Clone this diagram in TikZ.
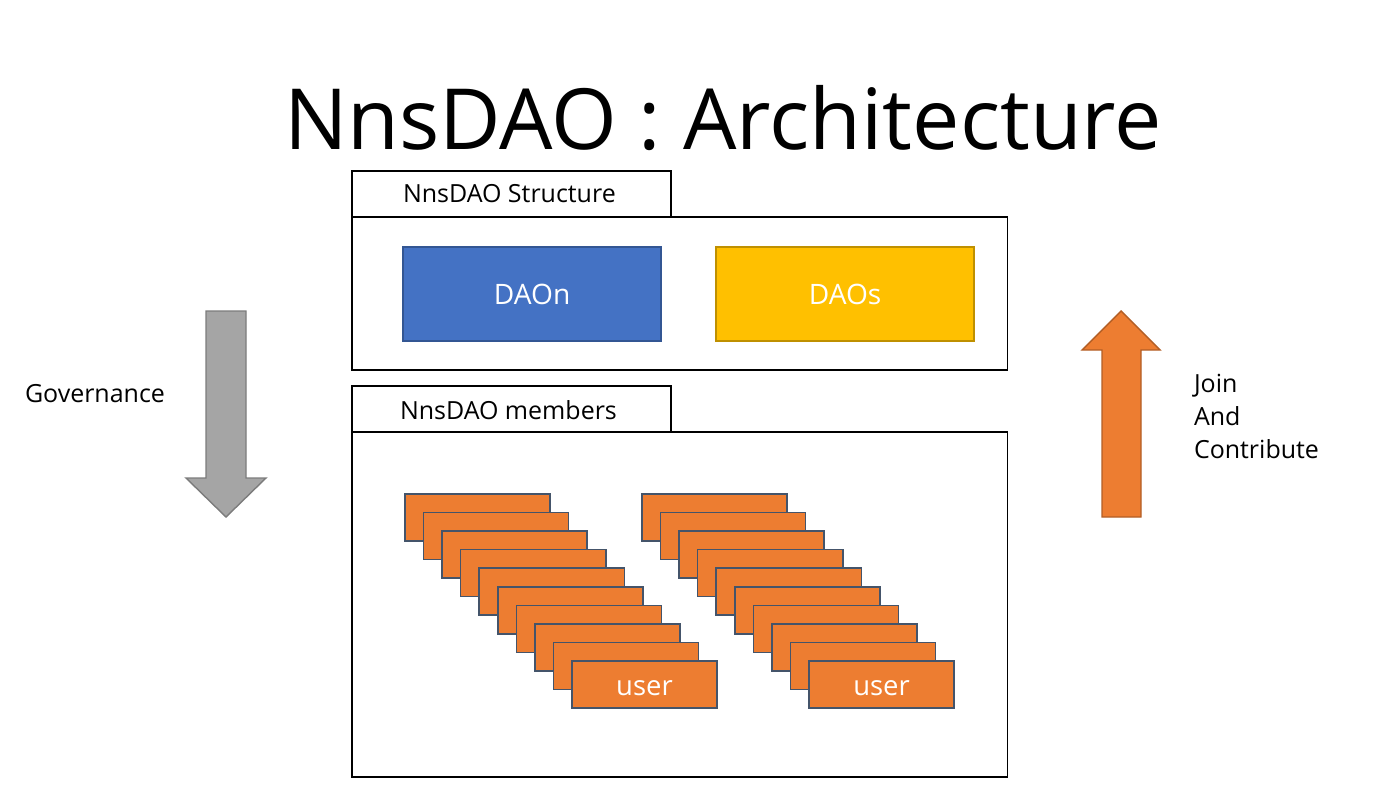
\documentclass[tikz,border=0pt]{standalone}
\usepackage{fontspec}
\setmainfont{Open Sans}
\usepackage{xcolor}
\usetikzlibrary{positioning}
\definecolor{daonblue}{HTML}{4472C4}
\definecolor{daosgold}{HTML}{FFC000}
\definecolor{useror}{HTML}{ED7D31}
\definecolor{cardline}{HTML}{44546A}
\definecolor{govgray}{HTML}{A5A5A5}

\begin{document}
\begin{tikzpicture}[x=0.01cm, y=-0.01cm,
  every node/.style={font=\fontsize{7.1}{9.4}\selectfont, inner sep=0pt, outer sep=0pt},
  frame/.style={draw=black, line width=0.45pt, anchor=north west},
  tab/.style={frame, minimum width=3.19cm, minimum height=0.46cm},
  dao/.style={anchor=north west, minimum width=2.58cm, minimum height=0.94cm, text=white, font=\fontsize{8}{10}\selectfont, line width=0.4pt},
  card/.style={draw=cardline, fill=useror, line width=0.45pt, anchor=north west, minimum width=1.45cm, minimum height=0.47cm, text=white, text height=1.12ex, text depth=0pt, font=\fontsize{7.8}{10}\selectfont}]
\useasboundingbox (0,0) rectangle (1400,794);
\node[anchor=base, font=\fontsize{24}{28}\selectfont] (title) at (723,150) {NnsDAO : Architecture};
% structure part
\node[tab] (structtab) at (352,171) {};
\node[anchor=west] at (403,194) {NnsDAO Structure};
\node[frame, minimum width=6.55cm, minimum height=1.53cm] (structbox) at (352,217) {};
\node[dao, draw=daonblue!75!black, fill=daonblue] (daon) at (403,247) {DAOn};
\node[dao, draw=daosgold!75!black, fill=daosgold] (daos) at (716,247) {DAOs};
% members part
\node[tab] (membtab) at (352,386) {};
\node[anchor=west] at (400,410) {NnsDAO members};
\node[frame, minimum width=6.55cm, minimum height=3.45cm] (membbox) at (352,432) {};
\foreach \i in {0,...,9} {
  \node[card] (ua\i) at (405+18.55*\i,494+18.55*\i) {user};
  \node[card] (ub\i) at (642+18.55*\i,494+18.55*\i) {user};
}
% side arrows
\draw[draw=govgray!75!black, fill=govgray, line width=0.4pt] (206,311) -- (246,311) -- (246,478) -- (266,478) -- (226,517) -- (186,478) -- (206,478) -- cycle;
\node[anchor=west] (gov) at (25,394) {Governance};
\draw[draw=useror!75!black, fill=useror, line width=0.4pt] (1102,517) -- (1141,517) -- (1141,350) -- (1160,350) -- (1121,311) -- (1082,350) -- (1102,350) -- cycle;
\node[anchor=north west, align=left] (join) at (1194,374) {Join\\And\\Contribute};
\end{tikzpicture}
\end{document}
